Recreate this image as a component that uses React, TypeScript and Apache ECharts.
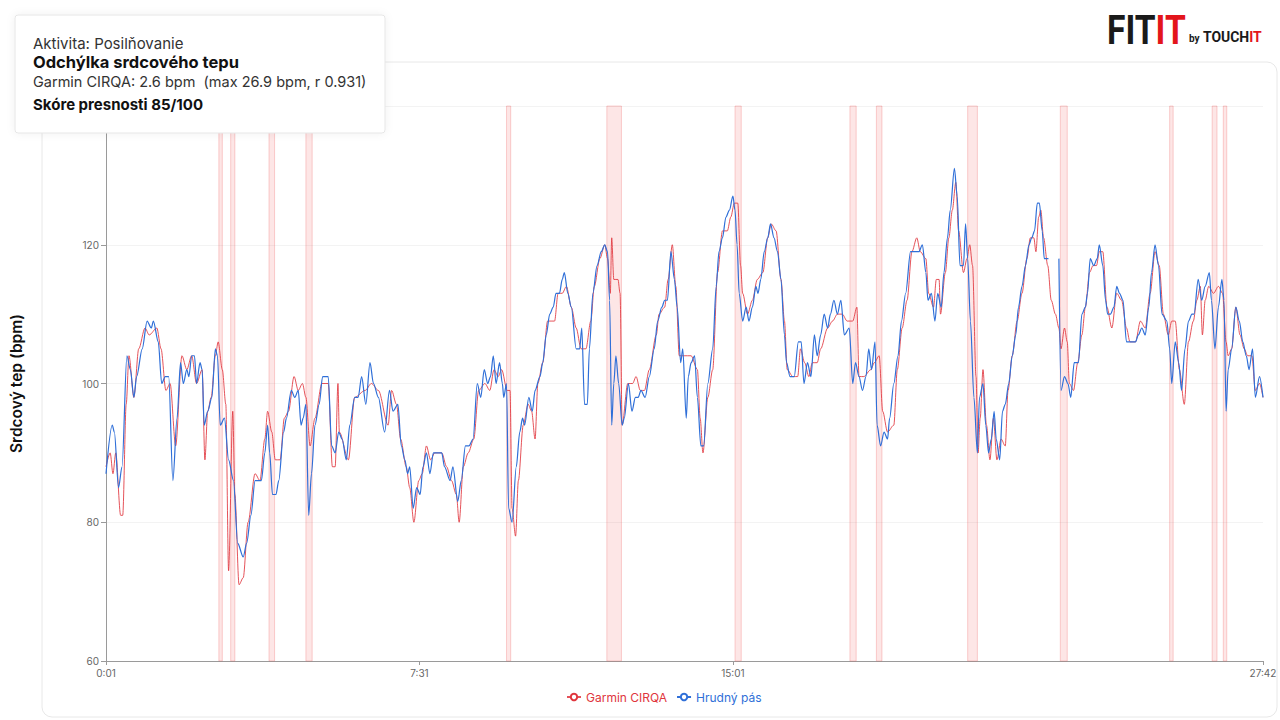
import React, { useEffect, useRef } from "react";
import * as echarts from "echarts";

const RED = "#e0353d";
const BLUE = "#2f6fd8";

// x ticks (seconds) and labels
const xTickSeconds = [1, 451, 901, 1662];

// Chest strap (Hrudný pás) — seconds and bpm (null = gap)
const strapT = [1,10,13,19,24,31,36,41,45,53,60,66,69,76,81,86,91,97,103,108,112,117,120,124,128,131,136,139,142,147,153,158,161,165,171,177,184,190,198,203,209,215,220,224,229,233,236,240,245,249,256,260,267,272,277,281,284,288,292,296,301,307,312,320,325,330,335,340,346,351,358,363,368,374,380,385,392,401,408,413,420,425,430,434,437,442,447,452,456,461,466,471,475,483,487,495,499,506,511,517,522,528,534,539,544,549,553,557,561,566,570,572,576,579,584,590,595,599,602,608,613,617,624,628,633,638,643,647,652,656,659,664,669,676,681,684,688,692,695,700,706,712,717,721,724,727,730,733,737,742,745,751,756,761,765,769,775,781,788,793,799,803,807,812,817,821,826,829,834,837,841,846,850,855,859,865,872,877,881,886,891,896,901,904,907,910,915,920,924,929,934,937,941,946,951,955,960,965,970,975,978,983,989,995,999,1003,1008,1013,1018,1022,1027,1032,1037,1041,1046,1051,1056,1061,1068,1073,1077,1082,1087,1092,1096,1100,1105,1108,1113,1118,1123,1126,1132,1138,1143,1149,1156,1163,1168,1173,1178,1181,1186,1191,1195,1200,1204,1209,1213,1219,1223,1227,1232,1235,1238,1242,1247,1252,1255,1260,1264,1268,1272,1276,1279,1284,1288,1292,1297,1302,1307,1311,1316,1321,1326,1330,1334,1338,1341,1345,1348,1354,1361,1369,1372,1377,1382,1386,1391,1397,1402,1407,1410,1414,1419,1424,1427,1432,1436,1439,1443,1448,1452,1456,1461,1466,1471,1479,1483,1488,1493,1498,1502,1507,1512,1517,1524,1528,1531,1536,1541,1545,1550,1555,1560,1563,1569,1574,1579,1585,1588,1593,1598,1603,1606,1609,1612,1617,1623,1628,1633,1638,1642,1647,1651,1657,1662];
const strapBpm = [87,94,93,85,88,104,102,98,101,105,109,108,109,106,100,101,101,86,95,103,100,102,101,104,104,100,103,102,94,96,98,105,104,94,95,89,86,77,75,77,81,86,86,86,90,94,90,84,84,86,93,95,99,98,99,94,95,97,81,87,94,97,101,101,91,90,93,92,89,94,98,98,101,97,103,100,98,93,99,96,97,91,89,87,88,82,85,84,88,90,87,90,90,90,88,86,88,83,86,91,91,92,100,98,102,100,101,104,100,103,100,98,100,82,80,88,93,95,94,98,96,99,101,103,107,110,111,113,113,115,116,113,111,105,105,108,97,97,105,113,117,119,120,119,112,94,100,104,100,94,95,100,96,98,98,99,98,101,105,109,111,112,112,119,115,111,103,105,95,101,103,104,98,91,91,100,105,114,119,121,124,125,127,125,120,113,109,111,109,111,114,113,115,119,121,123,121,119,115,107,103,101,101,106,106,100,103,101,107,104,107,110,108,110,112,110,112,107,108,100,103,101,99,101,105,102,106,94,91,93,92,95,100,104,109,113,119,119,119,120,116,112,113,109,113,111,116,121,125,131,127,117,117,123,118,109,98,90,98,100,94,90,92,96,92,89,96,97,100,104,107,111,114,117,120,121,122,126,126,122,118,118,null,118,99,101,100,98,103,103,110,111,113,118,117,118,120,117,112,110,110,111,114,113,112,106,106,106,107,108,107,111,116,120,117,110,109,105,100,106,103,99,105,109,110,110,115,112,114,116,112,105,111,115,112,96,102,105,111,109,106,104,102,105,98,101,98];

// Garmin CIRQA — seconds and bpm
const garminT = [1,7,11,15,22,25,30,34,41,48,57,63,74,80,87,93,101,110,117,124,131,139,143,147,152,158,162,168,173,177,183,186,192,198,205,215,222,229,233,239,244,251,257,263,271,277,283,288,294,301,311,320,326,330,334,336,349,358,373,382,392,406,411,418,424,432,437,443,450,455,461,467,473,483,490,497,504,508,514,521,529,536,545,552,558,564,569,577,581,584,589,593,600,607,612,617,621,628,635,645,650,656,662,669,676,683,690,697,702,710,717,721,725,727,730,736,739,742,750,757,762,768,774,781,791,795,803,808,814,819,824,831,841,850,854,858,865,872,879,886,893,898,903,908,912,915,922,929,936,944,951,956,963,970,975,979,987,994,998,1004,1010,1015,1022,1027,1037,1044,1051,1058,1065,1073,1079,1082,1089,1099,1104,1111,1116,1123,1132,1137,1144,1151,1158,1165,1170,1178,1182,1189,1193,1197,1199,1206,1211,1216,1221,1225,1232,1237,1241,1245,1250,1253,1256,1260,1265,1270,1275,1280,1286,1292,1296,1302,1309,1316,1323,1328,1333,1336,1340,1343,1347,1353,1358,1364,1369,1372,1377,1381,1384,1390,1396,1402,1407,1413,1418,1423,1427,1432,1438,1445,1452,1459,1466,1471,1479,1486,1493,1500,1507,1513,1519,1526,1531,1536,1542,1549,1555,1562,1567,1572,1575,1579,1584,1591,1598,1604,1609,1612,1617,1623,1629,1635,1640,1646,1651,1657,1662];
const garminBpm = [88,90,87,90,81,81,97,104,98,105,108,107,108,105,99,100,91,104,102,104,100,102,89,96,98,104,106,102,97,73,96,84,71,72,80,87,86,92,96,93,89,89,95,96,101,99,100,98,91,95,100,100,88,88,100,93,89,98,99,100,99,94,99,97,92,88,85,80,86,87,91,89,90,90,88,86,84,80,88,90,92,99,100,99,102,101,102,99,99,82,78,86,94,97,96,92,100,103,109,109,113,113,114,111,108,105,105,109,114,118,120,118,113,121,115,115,113,94,100,100,101,99,99,102,107,110,111,115,120,114,104,104,104,102,95,90,98,102,116,122,122,124,126,126,117,113,110,112,115,116,121,123,122,115,109,102,101,101,105,103,101,103,103,105,108,109,110,110,109,109,111,101,101,102,103,104,96,93,94,102,108,112,119,121,119,118,113,111,115,115,110,116,121,125,129,122,116,118,120,117,101,90,95,102,94,89,95,89,92,91,99,104,109,113,118,121,121,119,124,125,121,117,112,110,108,105,108,106,100,99,103,107,111,116,117,117,119,119,111,108,113,112,108,106,106,109,108,113,119,117,110,107,109,109,102,97,106,109,112,114,107,112,114,113,114,113,106,104,105,111,107,105,104,104,99,100,98];

// Deviation bands (seconds)
const bandStart = [163,180,235,288,576,720,904,1069,1107,1238,1371,1528,1589,1605];
const bandEnd = [168,186,243,297,582,741,913,1078,1115,1252,1381,1533,1596,1610];

const infoLines = [
  "Aktivita: Posilňovanie",
  "Odchýlka srdcového tepu",
  "Garmin CIRQA: 2.6 bpm  (max 26.9 bpm, r 0.931)",
  "Skóre presnosti 85/100",
];

const fmt = (s: number) => `${Math.floor(s / 60)}:${String(Math.round(s) % 60).padStart(2, "0")}`;

export default function App() {
  const ref = useRef<HTMLDivElement>(null);
  useEffect(() => {
    document.body.style.margin = "0";
    if (!ref.current) return;
    const chart = echarts.init(ref.current, null, { renderer: "svg" });
    const FONT = "Inter, Roboto, 'Noto Sans', sans-serif";
    chart.setOption({
      animation: false,
      backgroundColor: "#ffffff",
      textStyle: { fontFamily: FONT },
      grid: { left: 104, right: 17, top: 106, bottom: 59, containLabel: false },
      legend: {
        left: 561,
        top: 686,
        itemWidth: 14,
        itemHeight: 8,
        itemGap: 9,
        textStyle: { fontSize: 12, fontFamily: FONT },
        data: [
          { name: "Garmin CIRQA", textStyle: { color: RED } },
          { name: "Hrudný pás", textStyle: { color: BLUE } },
        ],
      },
      xAxis: {
        type: "value",
        min: 1,
        max: 1662,
        axisLine: { show: true, lineStyle: { color: "#9a9a9a" } },
        axisTick: { show: true, length: 4, customValues: xTickSeconds, lineStyle: { color: "#9a9a9a" } },
        axisLabel: {
          customValues: xTickSeconds,
          formatter: (v: number) => fmt(v),
          color: "#666",
          fontSize: 10,
          margin: 7,
        },
        splitLine: { show: false },
      },
      yAxis: {
        type: "value",
        min: 60,
        max: 140,
        interval: 20,
        name: "Srdcový tep (bpm)",
        nameLocation: "middle",
        nameGap: 82,
        nameRotate: 90,
        nameTextStyle: { fontSize: 15.5, fontWeight: 600, color: "#111", fontFamily: FONT },
        axisLine: { show: true, lineStyle: { color: "#9a9a9a" } },
        axisTick: { show: true, length: 5, lineStyle: { color: "#9a9a9a" } },
        axisLabel: {
          color: "#666",
          fontSize: 10,
          margin: 7,
          formatter: (v: number) => (v >= 140 ? "" : String(v)),
        },
        splitLine: { show: true, lineStyle: { color: "#f3f3f3" } },
      },
      series: [
        {
          name: "Garmin CIRQA",
          type: "line",
          data: garminT.map((t, i) => [t, garminBpm[i]]),
          showSymbol: false,
          symbol: "emptyCircle",
          symbolSize: 4,
          smooth: 0.3,
          smoothMonotone: "x",
          lineStyle: { color: RED, width: 1, opacity: 0.85 },
          itemStyle: { color: RED },
          z: 2,
          markArea: {
            silent: true,
            itemStyle: { color: "rgba(240,80,80,0.14)", borderColor: "rgba(240,80,80,0.25)", borderWidth: 1 },
            data: bandStart.map((s, i) => [{ xAxis: s }, { xAxis: bandEnd[i] }]),
          },
        },
        {
          name: "Hrudný pás",
          type: "line",
          data: strapT.map((t, i) => [t, strapBpm[i]]),
          connectNulls: false,
          showSymbol: false,
          symbol: "emptyCircle",
          symbolSize: 4,
          smooth: 0.3,
          smoothMonotone: "x",
          lineStyle: { color: BLUE, width: 1.2 },
          itemStyle: { color: BLUE },
          z: 3,
        },
      ],
      graphic: [
        {
          type: "rect",
          z: -1,
          silent: true,
          shape: { x: 42, y: 62, width: 1235, height: 655, r: 10 },
          style: { fill: "#ffffff", stroke: "#e8e8e8", lineWidth: 1 },
        },
        {
          type: "group",
          z: 100,
          children: [
            {
              type: "rect",
              z: 100,
              shape: { x: 15, y: 15, width: 370, height: 118, r: 3 },
              style: { fill: "#ffffff", stroke: "#e6e6e6", lineWidth: 1, shadowBlur: 8, shadowColor: "rgba(0,0,0,0.06)" },
            },
            {
              type: "text", z: 101, x: 33, y: 43,
              style: { text: infoLines[0], fill: "#333", font: `400 15px ${FONT}`, verticalAlign: "middle" },
            },
            {
              type: "text", z: 101, x: 33, y: 62,
              style: { text: infoLines[1], fill: "#111", font: `700 16.5px ${FONT}`, verticalAlign: "middle" },
            },
            {
              type: "text", z: 101, x: 33, y: 81,
              style: { text: infoLines[2], fill: "#333", font: `400 14.5px ${FONT}`, verticalAlign: "middle" },
            },
            {
              type: "text", z: 101, x: 33, y: 104,
              style: { text: infoLines[3], fill: "#111", font: `700 15px ${FONT}`, verticalAlign: "middle" },
            },
          ],
        },
        {
          type: "text", z: 100, x: 1107, y: 30, scaleX: 0.84,
          style: {
            text: "{a|FIT}{b|IT}",
            verticalAlign: "middle",
            rich: {
              a: { fill: "#1a1a1a", font: "700 40px Roboto" },
              b: { fill: "#e3151b", font: "700 40px Roboto" },
            },
          },
        },
        {
          type: "text", z: 100, x: 1189, y: 38,
          style: { text: "by", fill: "#1a1a1a", font: "700 10px Roboto", verticalAlign: "middle" },
        },
        {
          type: "text", z: 100, x: 1203, y: 37, scaleX: 0.9,
          style: {
            text: "{a|TOUCH}{b|IT}",
            verticalAlign: "middle",
            rich: {
              a: { fill: "#1a1a1a", font: "700 15.5px Roboto" },
              b: { fill: "#e3151b", font: "700 15.5px Roboto" },
            },
          },
        },
      ],
    });
    return () => chart.dispose();
  }, []);
  return <div ref={ref} style={{ width: 1280, height: 720 }} />;
}
